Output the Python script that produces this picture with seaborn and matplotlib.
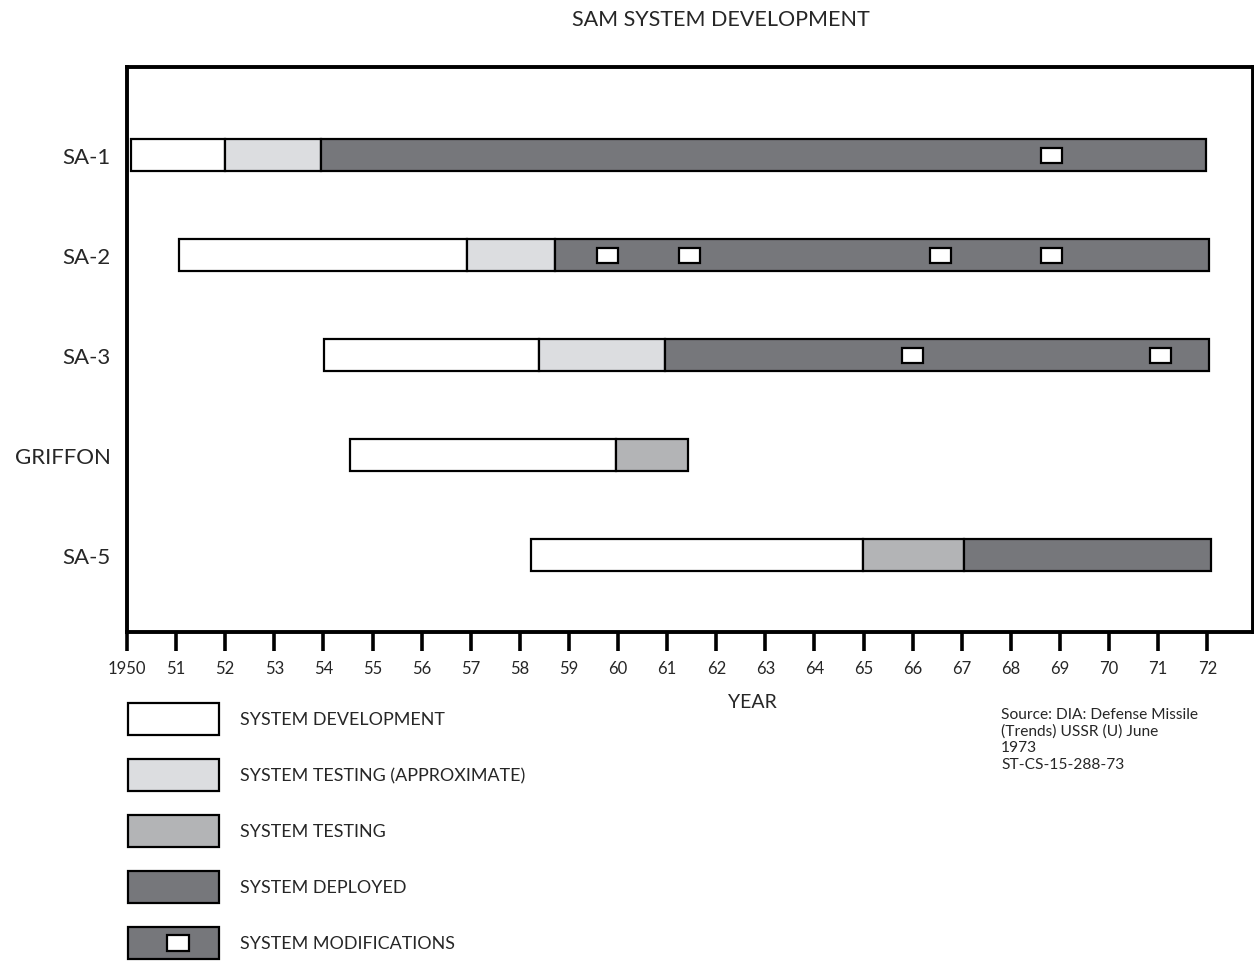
import numpy as np
import pandas as pd
import seaborn as sns
import matplotlib.pyplot as plt

# data (years)
systems = ["SA-1", "SA-2", "SA-3", "GRIFFON", "SA-5"]

dev_start = [1950.08, 1951.06, 1954.01, 1954.54, 1958.22]
dev_end = [1952.0, 1956.92, 1958.38, 1959.95, 1964.98]

approx_test_start = [1952.0, 1956.92, 1958.38, np.nan, np.nan]
approx_test_end = [1953.95, 1958.71, 1960.95, np.nan, np.nan]

test_start = [np.nan, np.nan, np.nan, 1959.95, 1964.98]
test_end = [np.nan, np.nan, np.nan, 1961.42, 1967.05]

deploy_start = [1953.95, 1958.71, 1960.95, np.nan, 1967.05]
deploy_end = [1971.98, 1972.04, 1972.04, np.nan, 1972.08]

mod_system = ["SA-1", "SA-2", "SA-2", "SA-2", "SA-2", "SA-3", "SA-3"]
mod_year = [1968.82, 1959.79, 1961.46, 1966.57, 1968.82, 1966.0, 1971.04]

years = list(range(1950, 1973))
year_labels = ["1950"] + [str(y)[2:] for y in years[1:]]

legend_labels = ["SYSTEM DEVELOPMENT", "SYSTEM TESTING (APPROXIMATE)",
                 "SYSTEM TESTING", "SYSTEM DEPLOYED", "SYSTEM MODIFICATIONS"]

colors = {"dev": "#ffffff", "approx": "#dcdde0", "test": "#b3b4b6", "deploy": "#76777b"}

# build one table of segments
rows = []
for phase, starts, ends in [("dev", dev_start, dev_end),
                            ("approx", approx_test_start, approx_test_end),
                            ("test", test_start, test_end),
                            ("deploy", deploy_start, deploy_end)]:
    for s, a, b in zip(systems, starts, ends):
        if not np.isnan(a):
            rows.append({"system": s, "phase": phase, "start": a, "end": b})
segments = pd.DataFrame(rows)
mods = pd.DataFrame({"system": mod_system, "year": mod_year})

sns.set_style("white")
plt.rcParams["font.family"] = ["Lato", "DejaVu Sans"]

fig = plt.figure(figsize=(12.54, 9.62), dpi=100)
ax = fig.add_axes([127 / 1254, 1 - 633 / 962, 1126 / 1254, 565 / 962])

ypos = {s: i for i, s in enumerate(systems)}

for _, r in segments.iterrows():
    ax.barh(ypos[r["system"]], r["end"] - r["start"], left=r["start"], height=0.32,
            color=colors[r["phase"]], edgecolor="black", linewidth=1.6, zorder=2)

mod_w = 0.43
ax.barh([ypos[s] for s in mods["system"]], mod_w, left=mods["year"] - mod_w / 2,
        height=0.15, color="white", edgecolor="black", linewidth=1.6, zorder=3)

ax.set_xlim(1950, 1972.93)
ax.set_ylim(4.77, -0.88)
ax.set_yticks(range(len(systems)))
ax.set_yticklabels(systems, fontsize=16)
ax.set_xticks(years)
ax.set_xticklabels(year_labels, fontsize=12)
ax.tick_params(axis="y", left=False, length=0, pad=11.5)
ax.tick_params(axis="x", bottom=True, length=13.5, width=2.6, direction="out", pad=6.5, color="black")
for sp in ax.spines.values():
    sp.set_color("black")
    sp.set_linewidth(2.8)

fig.text(721 / 1254, 1 - 20 / 962, "SAM SYSTEM DEVELOPMENT", ha="center", va="center", fontsize=15.5)
fig.text(752 / 1254, 1 - 703 / 962, "YEAR", ha="center", va="center", fontsize=14)
fig.text(1001 / 1254, 1 - 708 / 962,
         "Source: DIA: Defense Missile\n(Trends) USSR (U) June\n1973\nST-CS-15-288-73",
         ha="left", va="top", fontsize=11.2, linespacing=1.22)

# legend drawn in a figure-pixel overlay axes
lg = fig.add_axes([0, 0, 1, 1], zorder=-1)
lg.set_xlim(0, 1254)
lg.set_ylim(962, 0)
lg.axis("off")
leg_y = [720 + 56 * i for i in range(5)]
leg_colors = [colors["dev"], colors["approx"], colors["test"], colors["deploy"], colors["deploy"]]
lg.barh(leg_y, 91, left=128, height=32, color=leg_colors, edgecolor="black", linewidth=1.6)
lg.barh(leg_y[-1], 22, left=167, height=16, color="white", edgecolor="black", linewidth=1.6)
for y, lab in zip(leg_y, legend_labels):
    lg.text(240, y, lab, ha="left", va="center", fontsize=12.9)

fig.savefig("out.png", dpi=100)
